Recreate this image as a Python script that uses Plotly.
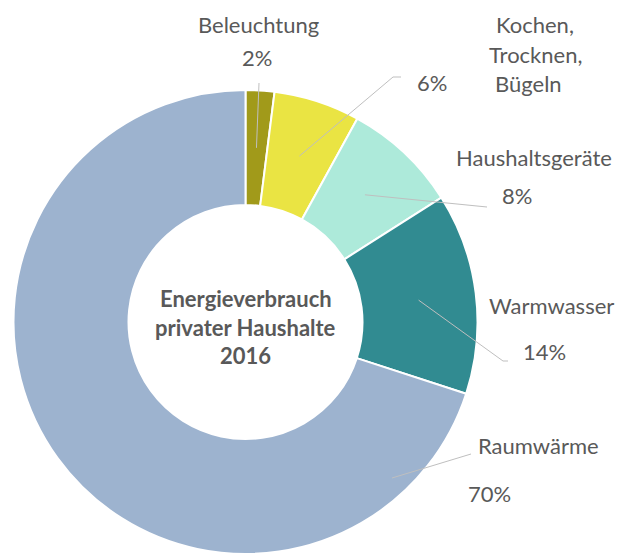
import math
import plotly.graph_objects as go

W, H = 623, 554
OFF = 8  # page body margin

categories = ["Beleuchtung", "Kochen, Trocknen, Bügeln", "Haushaltsgeräte", "Warmwasser", "Raumwärme"]
values = [2, 6, 8, 14, 70]
colors = ["#A19A1A", "#EAE443", "#ADEADA", "#318B91", "#9DB3CF"]

# label text lines and their positions (screen pixels)
label_lines = [
    [("Beleuchtung", 258, 25)],
    [("Kochen,", 535, 25), ("Trocknen,", 535, 55), ("Bügeln", 528, 84)],
    [("Haushaltsgeräte", 534, 157)],
    [("Warmwasser", 551, 305)],
    [("Raumwärme", 538, 445)],
]
pct_pos = [(257, 58), (432, 82), (517, 195), (544, 351), (489, 493)]
# leader line start overrides and end paths (screen pixels)
leader_start = [None, None, None, None, (392, 478)]
leader_ends = [
    [(259, 83)],
    [(393, 77), (401, 77)],
    [(487, 207)],
    [(503, 361), (508, 361)],
    [(471, 454)],
]

CX, CY, R_OUT, R_IN = 245.5, 322, 232, 117
GREY = "#595959"
FONT = "Lato, 'Open Sans', sans-serif"


def px(x, y):
    return (x - OFF) / W, 1 - (y - OFF) / H


dx0, dy1 = px(CX - R_OUT, CY - R_OUT)
dx1, dy0 = px(CX + R_OUT, CY + R_OUT)

fig = go.Figure(
    go.Pie(
        labels=categories,
        values=values,
        marker=dict(colors=colors, line=dict(color="white", width=2)),
        hole=R_IN / R_OUT,
        sort=False,
        direction="clockwise",
        rotation=0,
        textinfo="none",
        hoverinfo="label+percent",
        domain=dict(x=[dx0, dx1], y=[max(dy0, 0), dy1]),
        showlegend=False,
    )
)

annotations = []
shapes = []
total = sum(values)
cum = 0
r_mid = (R_OUT + R_IN) / 2
for i, v in enumerate(values):
    mid = (cum + v / 2) / total * 2 * math.pi
    cum += v
    if leader_start[i] is None:
        sx = CX + r_mid * math.sin(mid)
        sy = CY - r_mid * math.cos(mid)
    else:
        sx, sy = leader_start[i]
    pts = [(sx, sy)] + leader_ends[i]
    path = "M " + " L ".join(f"{px(x, y)[0]},{px(x, y)[1]}" for x, y in pts)
    shapes.append(dict(type="path", xref="paper", yref="paper", path=path,
                       line=dict(color="#BFBFBF", width=1)))
    for text, x, y in label_lines[i]:
        ax, ay = px(x, y)
        annotations.append(dict(text=text, x=ax, y=ay, xref="paper", yref="paper",
                                showarrow=False, xanchor="center", yanchor="middle",
                                font=dict(family=FONT, size=22, color=GREY)))
    pct = round(v / total * 100)
    ax, ay = px(*pct_pos[i])
    annotations.append(dict(text=f"{pct}%", x=ax, y=ay, xref="paper", yref="paper",
                            showarrow=False, xanchor="center", yanchor="middle",
                            font=dict(family=FONT, size=22, color=GREY)))

for text, y in [("Energieverbrauch", 298), ("privater Haushalte", 327), ("2016", 355)]:
    ax, ay = px(CX, y)
    annotations.append(dict(text=f"<b>{text}</b>", x=ax, y=ay, xref="paper", yref="paper",
                            showarrow=False, xanchor="center", yanchor="middle",
                            font=dict(family=FONT, size=22, color=GREY)))

fig.update_layout(
    width=W, height=H,
    margin=dict(l=0, r=0, t=0, b=0),
    paper_bgcolor="white", plot_bgcolor="white",
    annotations=annotations, shapes=shapes,
)

fig.write_html("out.html")
